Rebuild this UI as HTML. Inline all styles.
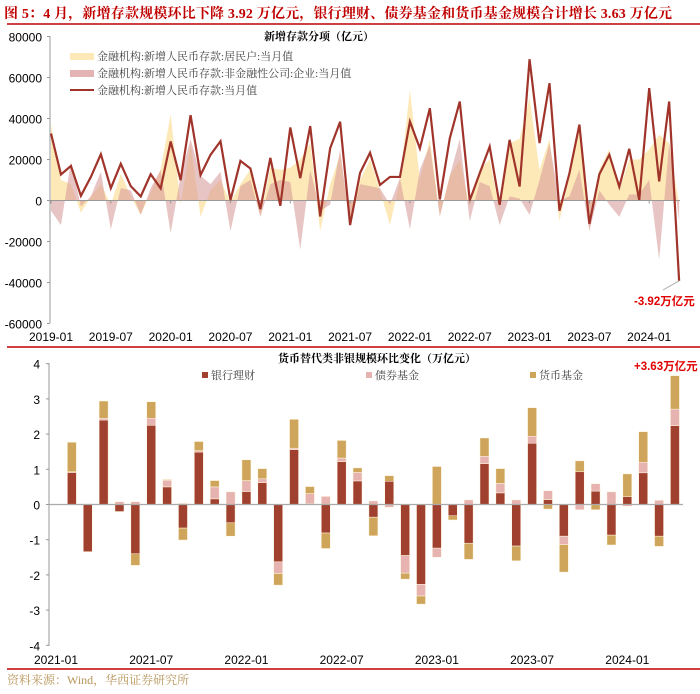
<!DOCTYPE html>
<html><head><meta charset="utf-8"><style>
body{margin:0;background:#fff;}
svg{display:block;font-family:"Liberation Sans","Noto Sans CJK SC",sans-serif;}
.ser{font-family:"Liberation Serif","Noto Serif CJK SC",serif;}
</style></head><body>
<svg id="c" width="700" height="694" viewBox="0 0 700 694" xmlns="http://www.w3.org/2000/svg">
<text x="4" y="18" font-size="14" font-weight="bold" fill="#c00000" class="ser" textLength="668">图 5：4 月，新增存款规模环比下降 3.92 万亿元，银行理财、债券基金和货币基金规模合计增长 3.63 万亿元</text>
<line x1="7" y1="24" x2="700" y2="24" stroke="#c00000" stroke-width="1.5"/>
<g id="top"></g>
<line x1="7" y1="347" x2="700" y2="347" stroke="#c00000" stroke-width="1.5"/>
<g id="bot"></g>
<line x1="7" y1="669" x2="700" y2="669" stroke="#c00000" stroke-width="1.5"/>
<text x="7" y="684" font-size="12" fill="#b8955a" class="ser">资料来源：Wind，华西证券研究所</text>
</svg>
<script>
const topLabels=["2019-01","2019-07","2020-01","2020-07","2021-01","2021-07","2022-01","2022-07","2023-01","2023-07","2024-01"];
const yTicksTop=[80000,60000,40000,20000,0,-20000,-40000,-60000];
const totalDep=[32.7,12.7,16.9,2.3,11.5,22.6,6,17.9,7,2,12.8,5.9,28.8,9.9,41.6,12.4,22.3,28.9,0.2,19.3,15.6,-4.2,20.8,-2.6,35.6,10.9,36.3,-7.8,25.5,38.4,-12,13.5,23.3,7.6,11.5,11.5,38.5,25.4,45,0.5,30.4,48.3,0,13.3,26.3,-2.1,29.6,6.8,68.9,28,57.2,-5,13.3,37,-11.4,12.8,22.3,6.7,25.2,0.3,54.8,9.3,48.3,-39.2];
const household=[37,10,8,-6,2,8,-2,13,2,-7,4,15,42,-2,28,-8,5,10,-1,8,15,-8,16,15,16,20,28,-15,8,22,-12,10,20,5,-12,10,54,10,30,-7,12,20,-3,15,20,-5,28,30,50,15,30,-10,12,35,-14,15,25,5,20,20,25,32,28,-2];
const corp=[-5,-12,19,-3,2,14,-14,6,5,-7,6,15,-16,12,30,12,8,14,-15,7,10,-8,8,10,9,-24,15,-5,-2,25,-12,8,7,6,-2,11,-14,15,27,-8,12,30,-10,9,7,-12,2,1,-7,10,28,0,2,15,-15,5,-2,-8,3,3,10,-29,28,-10];

const botLabels=["2021-01","2021-07","2022-01","2022-07","2023-01","2023-07","2024-01"];
const yTicksBot=[4,3,2,1,0,-1,-2,-3,-4];
const bank=[0.91,-1.34,2.4,-0.2,-1.4,2.25,0.5,-0.67,1.49,0.16,-0.52,0.37,0.62,-1.63,1.56,0.03,-0.81,1.22,0.67,-0.36,0.66,-1.45,-2.27,-1.24,-0.32,-1.1,1.16,0.33,-1.18,1.74,0.14,-0.9,0.93,0.38,-0.87,0.22,0.9,-0.9,2.24];
const bond=[0.02,0.02,0.05,0.08,0.08,0.2,0.19,0.03,0.04,0.34,0.36,0.31,0.11,-0.33,0.04,0.28,0.23,0.1,0.24,0.1,-0.08,-0.5,-0.33,-0.26,0,0.13,0.21,0.27,0.13,0.2,0.25,-0.24,-0.15,0.21,0.36,-0.05,0.3,0.12,0.47];
const money=[0.84,0,0.49,0,-0.33,0.47,0.02,-0.34,0.26,0.18,-0.38,0.59,0.29,-0.33,0.82,0.2,-0.44,0.5,0.13,-0.53,0.16,-0.17,-0.23,1.08,-0.12,-0.46,0.52,0.42,-0.42,0.81,-0.13,-0.78,0.31,-0.15,-0.28,0.65,0.87,-0.29,0.95];

const NS="http://www.w3.org/2000/svg";
function mk(p,t,a){const e=document.createElementNS(NS,t);for(const k in a)e.setAttribute(k,a[k]);p.appendChild(e);return e;}
// top chart
const T=document.getElementById('top');
const tx=i=>51+9.97*i, ty=v=>200.5-v*2.05/1000;
mk(T,'line',{x1:50,y1:36,x2:50,y2:323,stroke:'#999'});
yTicksTop.forEach(v=>{const t=mk(T,'text',{x:42,y:ty(v)+5,'font-size':12,'text-anchor':'end',fill:'#000'});t.textContent=v;


mk(T,'line',{x1:47,y1:ty(v),x2:50,y2:ty(v),stroke:'#999'});});
function area(arr,fill,name){let d='M'+tx(0)+','+ty(0);arr.forEach((v,i)=>d+='L'+tx(i)+','+ty(v*1000));d+='L'+tx(arr.length-1)+','+ty(0)+'Z';
const p=mk(T,'path',{d:d,fill:fill});

}
area(household,'#fde9b8','household-area');
area(corp,'rgba(214,150,150,0.55)','corporate-area');
mk(T,'line',{x1:50,y1:ty(0),x2:680,y2:ty(0),stroke:'#999'});
topLabels.forEach((s,k)=>{const x=tx(k*6);mk(T,'line',{x1:x,y1:ty(0),x2:x,y2:ty(0)+3,stroke:'#999'});
const t=mk(T,'text',{x:x,y:341,'font-size':12,'text-anchor':'middle'});t.textContent=s;

});
let ld='';totalDep.forEach((v,i)=>ld+=(i?'L':'M')+tx(i)+','+ty(v*1000));
const ln=mk(T,'path',{d:ld,fill:'none',stroke:'#a0342a','stroke-width':2.2,'stroke-linejoin':'miter'});


mk(T,'line',{x1:tx(63),y1:ty(totalDep[63]*1000),x2:663,y2:290,stroke:'#aaa'});
const an=mk(T,'text',{x:634,y:305,'font-size':11.5,'font-weight':'bold',fill:'#e00000'});an.textContent='-3.92万亿元';


const ct=mk(T,'text',{x:264,y:40,'font-size':11,'font-weight':'bold',class:'ser'});ct.textContent='新增存款分项（亿元）';


[['#fde9b8','金融机构:新增人民币存款:居民户:当月值',56,'rect'],['#e4b3b3','金融机构:新增人民币存款:非金融性公司:企业:当月值',73,'rect'],['#a0342a','金融机构:新增人民币存款:当月值',90,'line']].forEach(L=>{
const g=mk(T,'g',{});


if(L[3]=='rect')mk(g,'rect',{x:70,y:L[2]-3,width:24,height:7,fill:L[0]});else mk(g,'line',{x1:70,y1:L[2],x2:94,y2:L[2],stroke:L[0],'stroke-width':2});
const t=mk(g,'text',{x:97,y:L[2]+4,'font-size':11,fill:'#444',class:'ser'});t.textContent=L[1];});
// bottom chart
const B=document.getElementById('bot');
const bx=i=>56+15.87*(i+1), by=v=>504.5-v*35.2;
mk(B,'line',{x1:49,y1:363,x2:49,y2:646,stroke:'#999'});
yTicksBot.forEach(v=>{const t=mk(B,'text',{x:40,y:by(v)+5,'font-size':12,'text-anchor':'end'});t.textContent=v;


mk(B,'line',{x1:46,y1:by(v),x2:49,y2:by(v),stroke:'#999'});});
const cols=['#a0402f','#e7b3b0','#cfa55c'],names=['bank-wmp-bar','bond-fund-bar','money-fund-bar'];
bank.forEach((_,i)=>{let pos=0,neg=0;[bank[i],bond[i],money[i]].forEach((v,s)=>{if(!v)return;let y0,y1;
if(v>0){y0=pos;y1=pos+v;pos=y1;}else{y0=neg;y1=neg+v;neg=y1;}
const r=mk(B,'rect',{x:bx(i)-4.5,y:Math.min(by(y0),by(y1)),width:9,height:Math.abs(by(y1)-by(y0)),fill:cols[s],stroke:'#fff7e0','stroke-width':0.5});

});});
mk(B,'line',{x1:49,y1:by(0),x2:683,y2:by(0),stroke:'#aaa','stroke-width':1.2});
botLabels.forEach((s,k)=>{const x=56+15.87*6*k;
const t=mk(B,'text',{x:x,y:664,'font-size':12,'text-anchor':'middle'});t.textContent=s;

});
const bt=mk(B,'text',{x:278,y:362,'font-size':11,'font-weight':'bold',class:'ser'});bt.textContent='货币替代类非银规模环比变化（万亿元）';


[['银行理财',202,cols[0]],['债券基金',366,cols[1]],['货币基金',530,cols[2]]].forEach(L=>{
const g=mk(B,'g',{});


mk(g,'rect',{x:L[1],y:372,width:6,height:6,fill:L[2]});
const t=mk(g,'text',{x:L[1]+9,y:379,'font-size':11,fill:'#444',class:'ser'});t.textContent=L[0];});
const ba=mk(B,'text',{x:634,y:370,'font-size':11.5,'font-weight':'bold',fill:'#e00000'});ba.textContent='+3.63万亿元';


</script>
</body></html>
